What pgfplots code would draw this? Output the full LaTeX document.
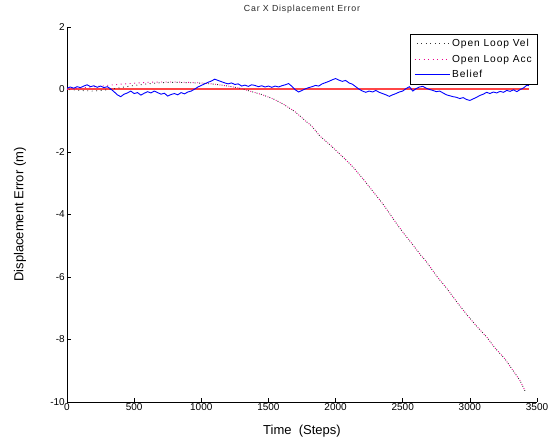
\documentclass[border=0pt]{standalone}
\usepackage{fontspec}
\setmainfont{Liberation Sans}
\newfontfamily\spaced[LetterSpace=9]{Liberation Sans}
\usepackage{pgfplots}
\pgfplotsset{compat=1.18}
\definecolor{zeroRed}{RGB}{255,70,70}
\begin{document}
\begin{tikzpicture}
\begin{axis}[
  name=ax,
  scale only axis, width=470pt, height=375pt,
  xmin=0, xmax=3500, ymin=-10, ymax=2,
  xtick={0,500,...,3500}, ytick={-10,-8,...,2},
  axis x line*=bottom, axis y line*=left,
  axis line style={line width=0.8pt},
  tick align=inside, major tick length=4pt,
  tick style={line width=0.6pt, black},
  ticklabel style={font=\fontsize{10}{10}\selectfont},
  xticklabel style={inner sep=1.5pt},
  yticklabel style={inner sep=2pt},
  /pgf/number format/assume math mode=true,
  /pgf/number format/set thousands separator={},
  title={\spaced Car X Displacement Error},
  title style={at={(axis description cs:0.5,1)}, anchor=base, yshift=9pt, font=\fontsize{8.8}{9}\selectfont, text=black!85},
  xlabel={Time\ \ (Steps)},
  ylabel={Displacement Error (m)},
  xlabel style={at={(axis description cs:0.5,0)}, anchor=center, yshift=-29pt, font=\fontsize{13}{13}\selectfont},
  ylabel style={at={(axis description cs:0,0.5)}, anchor=center, rotate=0, yshift=47pt, font=\fontsize{13}{13}\selectfont},
  legend style={at={(1.002,0.981)}, anchor=north east, draw=black, line width=0.6pt, fill=white,
    font=\spaced\fontsize{10.2}{10.2}\selectfont, row sep=2.6pt, inner xsep=4pt, inner ysep=3pt},
  legend cell align=left,
  legend image code/.code={\draw[#1] (0pt,0pt) -- (35pt,0pt);},
]
\addplot[color=zeroRed, line width=2pt, forget plot] coordinates {(0,0) (3440,0)};
\addplot[black!80, line width=0.9pt, dash pattern=on 0.9pt off 3.6pt, dash phase=2.2pt] coordinates {
(0,0.0) (100,-0.03) (200,-0.05) (300,-0.01) (400,0.06) (500,0.13) (600,0.18) (700,0.22) (800,0.23) (900,0.22) (1000,0.20) (1100,0.17)
(1200,0.11) (1300,0.03) (1360,-0.05) (1450,-0.16) (1536,-0.30) (1611,-0.47) (1698,-0.71) (1772,-0.99) (1822,-1.17) (1884,-1.49)
(1971,-1.82) (2057,-2.17) (2132,-2.49) (2206,-2.87) (2269,-3.21) (2343,-3.61) (2393,-3.91) (2447,-4.25) (2505,-4.59) (2572,-4.95)
(2634,-5.30) (2671,-5.48) (2758,-6.00) (2827,-6.36) (2921,-6.90) (2984,-7.24) (3051,-7.58) (3125,-7.92) (3187,-8.27) (3261,-8.62)
(3316,-8.96) (3373,-9.31) (3415,-9.68)};
\addlegendentry{Open Loop Vel}
\addplot[magenta, line width=0.9pt, dash pattern=on 0.9pt off 3.6pt] coordinates {
(0,0.0) (100,0.05) (200,0.09) (300,0.13) (400,0.17) (500,0.20) (600,0.23) (700,0.24) (800,0.24) (900,0.23) (1000,0.21) (1100,0.17)
(1200,0.11) (1300,0.03) (1360,-0.05) (1450,-0.16) (1536,-0.30) (1611,-0.47) (1698,-0.71) (1772,-0.99) (1822,-1.17) (1884,-1.49)
(1971,-1.82) (2057,-2.17) (2132,-2.49) (2206,-2.87) (2269,-3.21) (2343,-3.61) (2393,-3.91) (2447,-4.25) (2505,-4.59) (2572,-4.95)
(2634,-5.30) (2671,-5.48) (2758,-6.00) (2827,-6.36) (2921,-6.90) (2984,-7.24) (3051,-7.58) (3125,-7.92) (3187,-8.27) (3261,-8.62)
(3316,-8.96) (3373,-9.31) (3415,-9.68)};
\addlegendentry{Open Loop Acc}
\addplot[blue, line width=0.9pt] coordinates {
(0,0.04) (25,0.08) (50,0.04) (75,0.09) (100,0.06) (125,0.11) (150,0.15) (175,0.09) (200,0.12) (225,0.07) (250,0.11) (275,0.06)
(300,0.09) (325,0.02) (350,-0.07) (375,-0.17) (400,-0.23) (425,-0.15) (450,-0.11) (475,-0.05) (500,-0.13) (525,-0.10) (550,-0.18)
(575,-0.12) (600,-0.07) (625,-0.11) (650,-0.05) (675,-0.10) (700,-0.15) (725,-0.12) (750,-0.21) (775,-0.16) (800,-0.13) (825,-0.17)
(850,-0.10) (875,-0.14) (900,-0.08) (925,-0.05) (950,0.01) (975,0.08) (1000,0.13) (1025,0.18) (1050,0.23) (1075,0.27) (1100,0.33)
(1125,0.29) (1150,0.25) (1175,0.21) (1200,0.18) (1225,0.21) (1250,0.16) (1275,0.18) (1300,0.11) (1325,0.14) (1350,0.10) (1375,0.15)
(1400,0.13) (1425,0.09) (1450,0.12) (1475,0.08) (1500,0.11) (1525,0.07) (1550,0.11) (1575,0.08) (1600,0.12) (1625,0.15) (1650,0.19)
(1675,0.10) (1700,-0.01) (1725,-0.08) (1750,-0.03) (1775,0.02) (1800,0.06) (1825,0.09) (1850,0.13) (1875,0.11) (1900,0.18) (1925,0.22)
(1950,0.26) (1975,0.31) (2000,0.35) (2025,0.30) (2050,0.26) (2075,0.29) (2100,0.21) (2125,0.17) (2150,0.09) (2175,0.01) (2200,-0.05)
(2225,-0.09) (2250,-0.05) (2275,-0.08) (2300,-0.03) (2325,-0.09) (2350,-0.13) (2375,-0.17) (2400,-0.22) (2425,-0.17) (2450,-0.13)
(2475,-0.08) (2500,-0.05) (2525,0.03) (2550,0.09) (2575,-0.05) (2600,0.03) (2625,0.08) (2650,0.10) (2675,0.04) (2700,0.00) (2725,-0.03)
(2750,-0.07) (2775,-0.05) (2800,-0.11) (2825,-0.17) (2850,-0.20) (2875,-0.23) (2900,-0.25) (2925,-0.29) (2950,-0.26) (2975,-0.32)
(3000,-0.35) (3025,-0.30) (3050,-0.25) (3075,-0.19) (3100,-0.15) (3125,-0.09) (3150,-0.13) (3175,-0.08) (3200,-0.11) (3225,-0.06)
(3250,-0.09) (3275,-0.03) (3300,-0.06) (3325,-0.01) (3350,-0.07) (3375,0.00) (3400,0.05) (3425,0.14) (3440,0.12)};
\addlegendentry{Belief}
\end{axis}
\path (ax.south west) ++(-67pt,-41pt) rectangle ++(556pt,443pt);
\end{tikzpicture}
\end{document}
